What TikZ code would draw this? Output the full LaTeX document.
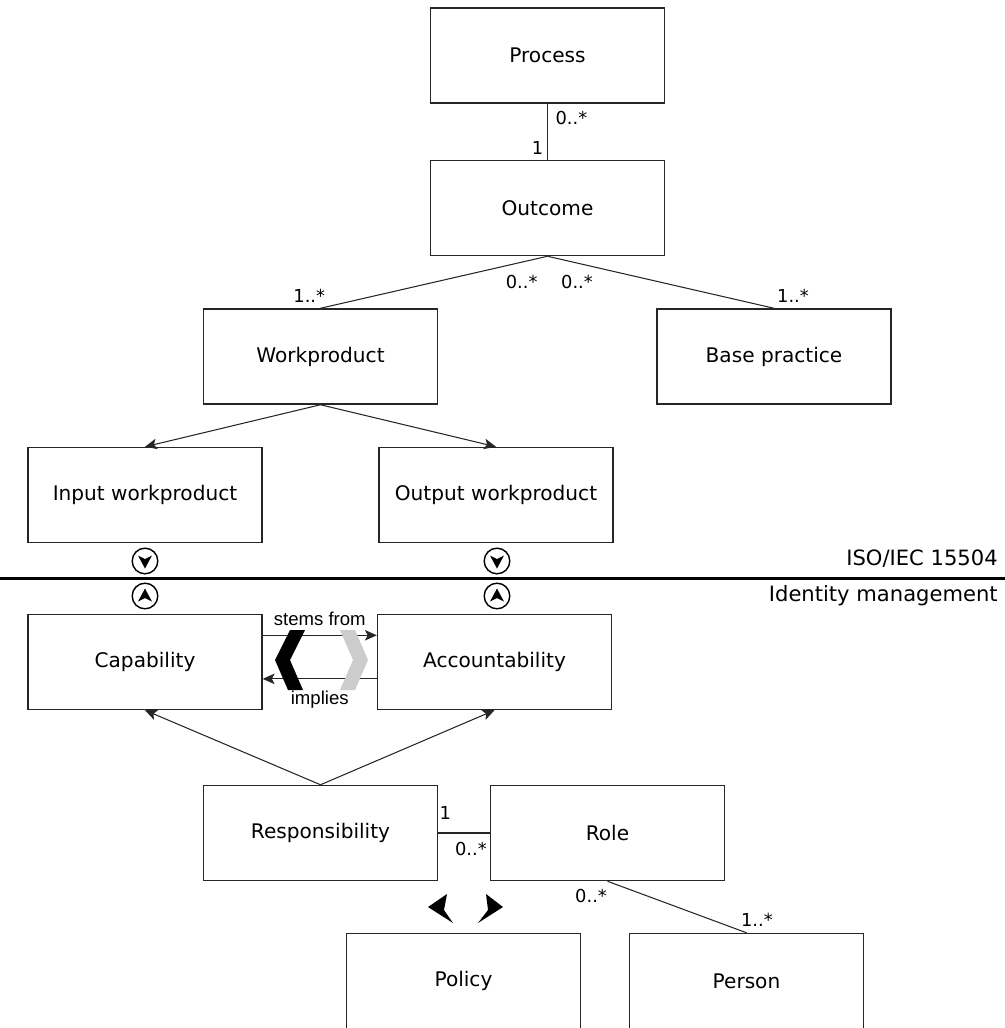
\documentclass[tikz,border=0pt]{standalone}
\usepackage{fontspec}
\setmainfont{DejaVu Sans}
\newfontfamily\verbfont{Liberation Sans}
\usetikzlibrary{arrows, arrows.meta}
\tikzstyle{entity} = [rectangle, minimum width=5.85cm, minimum height=2.38cm, text centered, draw=black!85, line width=0.9pt, font=\fontsize{14.3}{17}\selectfont]
\tikzstyle{mult} = [inner sep=0pt, font=\fontsize{12.7}{15}\selectfont]
\tikzstyle{assoc} = [draw=black!85, line width=0.75pt]
\tikzstyle{arrow} = [assoc, -{Stealth[length=8.5pt, width=7.5pt, inset=2pt]}]
\tikzstyle{marker} = [circle, draw=black, line width=1pt, minimum size=0.64cm, inner sep=0pt]
\tikzstyle{realm} = [anchor=base east, inner sep=0pt, font=\fontsize{15}{18}\selectfont]
\tikzstyle{verb} = [inner sep=0pt, font=\verbfont\fontsize{13.2}{15}\selectfont]

\begin{document}
\begin{tikzpicture}[x=0.025cm, y=-0.025cm]
\useasboundingbox (0,0) rectangle (1005,1028);
\clip (0,0) rectangle (1005,1028);

% ISO/IEC 15504 part
\node (process) [entity] at (547.5,55.5) {Process};
\node (outcome) [entity] at (547.5,208) {Outcome};
\node (workproduct) [entity] at (320.5,356.5) {Workproduct};
\node (basepractice) [entity] at (774,356.5) {Base practice};
\node (input) [entity] at (145,495) {Input workproduct};
\node (output) [entity] at (496,495) {Output workproduct};

% identity management part
\node (capability) [entity] at (145,662) {Capability};
\node (accountability) [entity] at (494.5,662) {Accountability};
\node (responsibility) [entity] at (320.5,833) {Responsibility};
\node (role) [entity] at (607.5,833) {Role};
\node (policy) [entity] at (463.5,981) {Policy};
\node (person) [entity] at (746.5,981) {Person};

\draw [assoc] (process) -- node[mult, pos=0, xshift=17pt, yshift=-10pt]{0..*} node[mult, pos=1, xshift=-7pt, yshift=8.5pt]{1} (outcome);
\draw [assoc] (outcome.south) -- node[mult, pos=0, xshift=-18.4pt, yshift=-18.4pt]{0..*} node[mult, pos=1, xshift=-8pt, yshift=9pt]{1..*} (workproduct.north);
\draw [assoc] (outcome.south) -- node[mult, pos=0, xshift=21pt, yshift=-18.4pt]{0..*} node[mult, pos=1, xshift=13.5pt, yshift=9pt]{1..*} (basepractice.north);
\draw [arrow] (workproduct.south) -- (input.north);
\draw [arrow] (workproduct.south) -- (output.north);

% separator
\draw [line width=2.2pt] (0,578.5) -- (1005,578.5);
\node (iso) [realm] at (998,565) {ISO/IEC 15504};
\node (idm) [realm] at (998,601) {Identity management};

\node (inDown) [marker] at (145,561) {};
\node (outDown) [marker] at (497,561) {};
\node (capUp) [marker] at (145,596) {};
\node (accUp) [marker] at (497,596) {};
\foreach \m in {inDown,outDown}
  \fill [shift={(\m.center)}] (-7,-5.5) -- (0,-2) -- (7,-5.5) -- (0,7.5) -- cycle;
\foreach \m in {capUp,accUp}
  \fill [shift={(\m.center)}] (-7,5.5) -- (0,2) -- (7,5.5) -- (0,-7.5) -- cycle;

\draw [arrow] ([yshift=19pt]capability.east) -- node[verb, yshift=12pt]{stems from} ([yshift=19pt]accountability.west);
\draw [arrow] ([yshift=-12pt]accountability.west) -- node[verb, yshift=-15pt]{implies} ([yshift=-12pt]capability.east);
\fill (305,630) -- (290,630) -- (275,660) -- (288,690) -- (303,690) -- (290,660) -- cycle;
\fill [black!20] (340,630) -- (355,630) -- (368,660) -- (355,690) -- (340,690) -- (353,660) -- cycle;

\draw [arrow] (responsibility.north) -- (capability.south);
\draw [arrow] (responsibility.north) -- (accountability.south);
\draw [assoc] (responsibility) -- node[mult, pos=0, xshift=5pt, yshift=14pt]{1} node[mult, pos=1, xshift=-13.5pt, yshift=-11.5pt]{0..*} (role);
\draw [assoc] (role.south) -- node[mult, pos=0, xshift=-11.7pt, yshift=-10.6pt]{0..*} node[mult, pos=1, xshift=7.4pt, yshift=9.2pt]{1..*} (person.north);

\fill (428,907) -- (447,894) -- (444,910) -- (453,923) -- cycle;
\fill (503,907) -- (486,894) -- (488,910) -- (478,923) -- cycle;
\end{tikzpicture}
\end{document}
